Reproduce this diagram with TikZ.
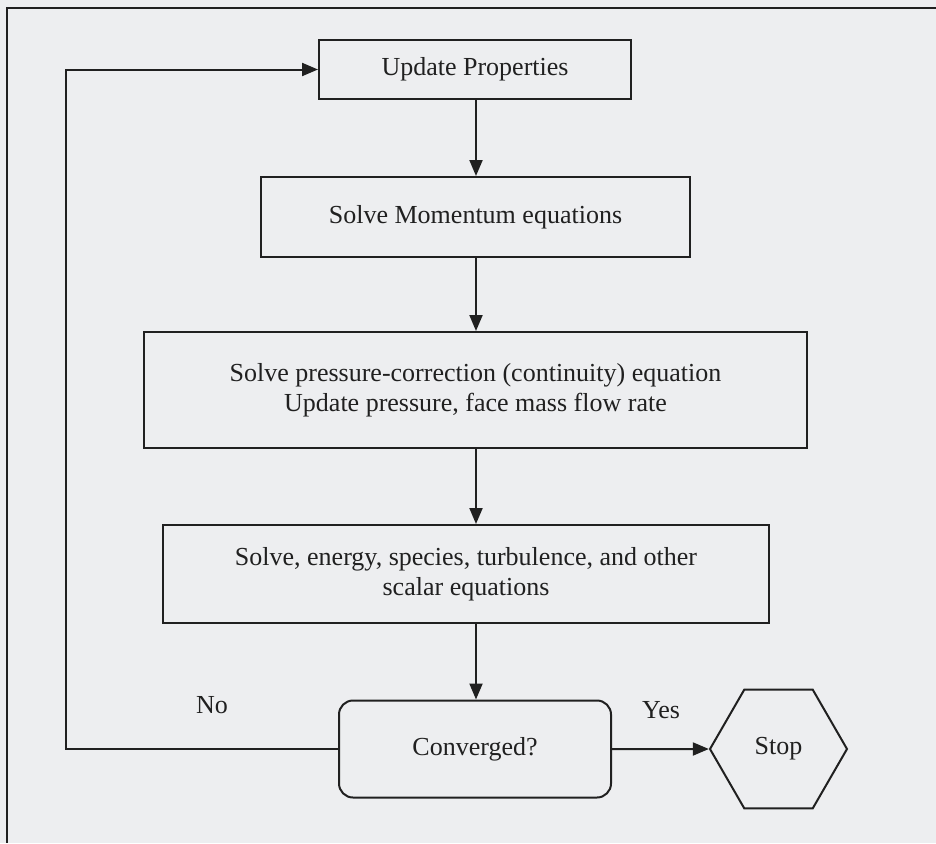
\documentclass[tikz,border=0pt]{standalone}
\usepackage{fontspec}
\setmainfont{Liberation Serif}
\usetikzlibrary{arrows.meta,shapes.geometric}
\definecolor{bg}{RGB}{237,238,240}
\definecolor{ink}{RGB}{32,32,32}
\tikzset{
  box/.style={draw=ink, line width=2pt, rectangle, inner sep=0pt, align=center, text=ink,
    font=\fontsize{26}{30}\selectfont},
  rbox/.style={box, rounded corners=14pt},
  hexa/.style={draw=ink, line width=2pt, regular polygon, regular polygon sides=6,
    minimum size=137pt, inner sep=0pt, text=ink, font=\fontsize{26}{30}\selectfont},
  lbl/.style={text=ink, inner sep=0pt, font=\fontsize{26}{30}\selectfont},
  arr/.style={draw=ink, line width=2pt, -{Triangle[length=16pt,width=13pt]}},
  frame/.style={draw=ink, line width=1.5pt}
}
\begin{document}
\begin{tikzpicture}[x=1pt,y=-1pt]
\fill[bg] (0,0) rectangle (936,843);
\useasboundingbox (0,0) rectangle (936,843);
\coordinate (fa) at (7,8);
\coordinate (fb) at (936,8);
\coordinate (fc) at (7,843);
\draw[frame] (fb) -- (fa) -- (fc);

\node[box, minimum width=312pt, minimum height=59pt] (up) at (475,69.5) {Update Properties};
\node[box, minimum width=429pt, minimum height=80pt] (mom) at (475.5,217) {Solve Momentum equations};
\node[box, minimum width=663pt, minimum height=116pt] (pres) at (475.5,390)
  {Solve pressure-correction (continuity) equation\\Update pressure, face mass flow rate};
\node[box, minimum width=606pt, minimum height=98pt] (scal) at (466,574)
  {Solve, energy, species, turbulence, and other\\scalar equations};
\node[rbox, minimum width=272pt, minimum height=97pt] (conv) at (475,749) {Converged?};
\node[hexa] (stop) at (778.5,749) {Stop};
\node[lbl] (no) at (212,705) {No};
\node[lbl] (yes) at (661,710) {Yes};

\coordinate (ax) at (476,0);
\coordinate (lp) at (66,400);
\draw[arr] (up.south -| ax) -- (mom.north -| ax);
\draw[arr] (mom.south -| ax) -- (pres.north -| ax);
\draw[arr] (pres.south -| ax) -- (scal.north -| ax);
\draw[arr] (scal.south -| ax) -- (conv.north -| ax);
\draw[arr] (conv.east) -- (stop.west);
\draw[arr] (conv.west) -- (conv.west -| lp) |- (up.west);
\end{tikzpicture}
\end{document}
